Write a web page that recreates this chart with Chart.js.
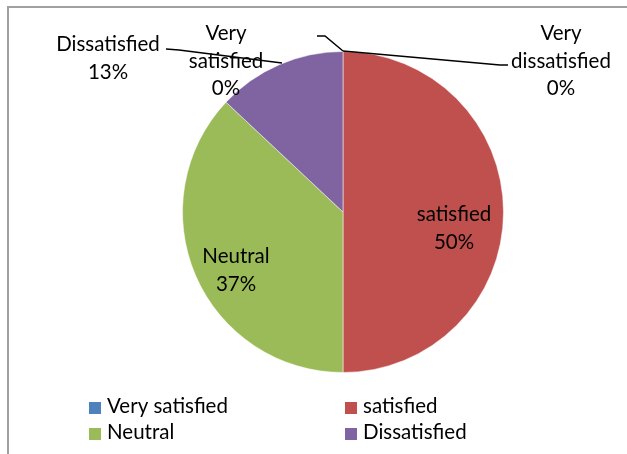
<!DOCTYPE html>
<html>
<head>
<meta charset="utf-8">
<script src="https://cdn.jsdelivr.net/npm/chart.js@4"></script>
<style>
  html, body { margin: 0; padding: 0; background: #fff; }
  #wrap { position: relative; width: 627px; height: 454px; overflow: hidden; }
  #frame { position: absolute; left: 7px; top: 6px; right: -10px; bottom: -10px;
           border-top: 2px solid #a0a0a0; border-left: 2px solid #a0a0a0; }
  canvas { position: absolute; left: 0; top: 0; }
</style>
</head>
<body>
<div id="wrap">
  <div id="frame"></div>
  <canvas id="pie" width="627" height="454"></canvas>
</div>
<script>
const categories = ['Very satisfied', 'satisfied', 'Neutral', 'Dissatisfied', 'Very dissatisfied'];
const shares = [0, 50, 37, 13, 0];
const sliceColors = ['#4F81BD', '#C0504D', '#9BBB59', '#8064A2', '#4BACC6'];

const FONT = '20.5px Lato';

// where each data label block sits (center x, first baseline y); outside
// labels are split one word per line
const labelSpots = [
  { x: 226, y: 40, outside: true },
  { x: 454, y: 221 },
  { x: 236, y: 263 },
  { x: 108, y: 51, outside: true },
  { x: 561, y: 40, outside: true }
];

// leader lines for the labels that sit outside the pie
const leaders = [
  [[317, 36], [325, 36], [343, 51]],
  [[166, 49], [179, 50], [282, 63]],
  [[343, 51], [500, 65], [508, 65]]
];

const pieLabels = {
  id: 'pieLabels',
  afterDatasetsDraw(chart) {
    const ctx = chart.ctx;
    const data = chart.data.datasets[0].data;
    ctx.save();
    ctx.strokeStyle = '#000';
    ctx.lineWidth = 1.5;
    leaders.forEach(pts => {
      ctx.beginPath();
      pts.forEach(([x, y], i) => i ? ctx.lineTo(x, y) : ctx.moveTo(x, y));
      ctx.stroke();
    });
    ctx.font = FONT;
    ctx.fillStyle = '#000';
    ctx.textAlign = 'center';
    ctx.textBaseline = 'alphabetic';
    chart.data.labels.forEach((name, i) => {
      const spot = labelSpots[i];
      const lines = spot.outside ? name.split(' ') : [name];
      lines.push(data[i] + '%');
      lines.forEach((t, k) => ctx.fillText(t, spot.x, spot.y + k * 27.5));
    });
    ctx.restore();
  }
};

// two-column legend under the pie
const gridLegend = {
  id: 'gridLegend',
  afterDraw(chart) {
    const ctx = chart.ctx;
    const colors = chart.data.datasets[0].backgroundColor;
    ctx.save();
    ctx.font = FONT;
    ctx.textBaseline = 'alphabetic';
    ctx.textAlign = 'left';
    chart.data.labels.slice(0, 4).forEach((name, i) => {
      const x = i % 2 ? 345 : 89;
      const y = 413 + Math.floor(i / 2) * 26;
      ctx.fillStyle = colors[i];
      ctx.fillRect(x, y - 11, 12, 12);
      ctx.fillStyle = '#000';
      ctx.fillText(name, x + 18, y);
    });
    ctx.restore();
  }
};

new Chart(document.getElementById('pie'), {
  type: 'pie',
  data: {
    labels: categories,
    datasets: [{
      data: shares,
      backgroundColor: sliceColors,
      borderColor: 'rgba(255,255,255,0.5)',
      borderWidth: 1
    }]
  },
  options: {
    responsive: false,
    animation: false,
    layout: { padding: { left: 182, right: 123, top: 51, bottom: 81 } },
    plugins: {
      legend: { display: false },
      tooltip: { enabled: false }
    }
  },
  plugins: [pieLabels, gridLegend]
});
</script>
</body>
</html>
